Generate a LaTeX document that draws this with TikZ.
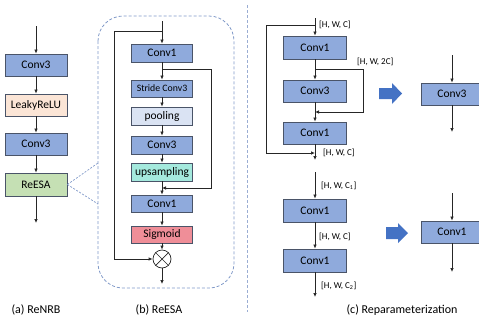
\documentclass[tikz,border=0pt]{standalone}
\usepackage{fontspec}
\setmainfont{Carlito}
\usetikzlibrary{arrows.meta}
\definecolor{convblue}{HTML}{8FAADC}
\definecolor{bordergray}{HTML}{4A5468}
\definecolor{peach}{HTML}{FBE5D6}
\definecolor{greenbox}{HTML}{C5E0B4}
\definecolor{poolblue}{HTML}{DAE3F3}
\definecolor{upcyan}{HTML}{A4E9DD}
\definecolor{sigred}{HTML}{EF8E98}
\definecolor{dashblue}{HTML}{8099C8}
\definecolor{arrowblue}{HTML}{4472C4}
\begin{document}
\begin{tikzpicture}[x=1pt,y=-1pt,
  box/.style={draw=bordergray,line width=0.8pt,minimum width=61pt,minimum height=18pt,inner sep=0pt,font=\fontsize{11.5}{13}\selectfont},
  conv/.style={box,fill=convblue},
  flow/.style={line width=0.7pt,draw=black!85,-{Latex[length=4pt,width=3.5pt]}},
  line/.style={line width=0.7pt,draw=black!85},
  lbl/.style={anchor=west,inner sep=0pt,font=\fontsize{9}{10}\selectfont},
  captxt/.style={font=\fontsize{12}{14}\selectfont},
  barrow/.style={fill=arrowblue,draw=none}]
\useasboundingbox (0,0) rectangle (479,322);

% ---------------- (a) ReNRB
\coordinate (ain) at (36,26);
\node[conv,minimum width=62pt,minimum height=22pt] (a1) at (36,65) {Conv3};
\node[box,fill=peach,minimum width=62pt,minimum height=22pt] (a2) at (36,105) {LeakyReLU};
\node[conv,minimum width=62pt,minimum height=22pt] (a3) at (36,144) {Conv3};
\node[box,fill=greenbox,minimum width=62pt,minimum height=23pt] (a4) at (36,184.5) {ReESA};
\coordinate (aout) at (36,223);
\draw[flow] (ain) -- (a1);
\draw[flow] (a1) -- (a2);
\draw[flow] (a2) -- (a3);
\draw[flow] (a3) -- (a4);
\draw[flow] (a4) -- (aout);

% ---------------- (b) ReESA
\draw[dashblue,line width=0.8pt,dash pattern=on 3pt off 2pt,rounded corners=25pt] (98,16) rectangle (234,288);
\coordinate (zu) at (98,163);
\coordinate (zd) at (98,204);
\draw[dashblue,line width=0.7pt,dash pattern=on 2pt off 1.5pt] (a4.east) -- (zu);
\draw[dashblue,line width=0.7pt,dash pattern=on 2pt off 1.5pt] (a4.east) -- (zd);

\coordinate (bin) at (162,21);
\node[conv] (b1) at (162,53) {Conv1};
\node[conv,minimum height=17pt,font=\fontsize{9.8}{11}\selectfont] (b2) at (162,88.5) {Stride Conv3};
\node[box,fill=poolblue] (b3) at (162,116) {pooling};
\node[conv] (b4) at (162,145) {Conv3};
\node[box,fill=upcyan] (b5) at (162,172) {upsampling};
\node[conv,minimum height=17pt] (b6) at (162,203.5) {Conv1};
\node[box,fill=sigred,minimum height=17pt] (b7) at (162,234.5) {Sigmoid};
\node[draw=black!85,line width=0.7pt,circle,minimum size=18pt,inner sep=0pt] (mul) at (162,259) {};
\draw[line] (mul.north west) -- (mul.south east);
\draw[line] (mul.north east) -- (mul.south west);
\coordinate (bout) at (162,284);

\draw[flow] (bin) -- (b1);
\draw[flow] (b1) -- (b2);
\draw[flow] (b2) -- (b3);
\draw[flow] (b3) -- (b4);
\draw[flow] (b4) -- (b5);
\draw[flow] (b5) -- (b6);
\draw[flow] (b6) -- (b7);
\draw[flow] (b7) -- (mul);
\draw[flow] (mul) -- (bout);
% skip connections
\coordinate (s1) at (162,31);
\draw[flow] (s1) -- (114,31) -- (114,259) -- (mul.west);
\coordinate (s2) at (162,69);
\coordinate (s2e) at (162,188);
\draw[flow] (s2) -- (211,69) -- (211,188) -- (s2e);

% separator
\draw[dashblue!80,line width=0.9pt,dash pattern=on 3pt off 2pt] (247,5) -- (247,312);

% ---------------- (c) top
\coordinate (cin) at (315,18);
\node[conv,minimum width=63pt,minimum height=23pt] (c1) at (315,47.5) {Conv1};
\node[conv,minimum width=63pt,minimum height=22pt] (c2) at (315,91) {Conv3};
\node[conv,minimum width=63pt,minimum height=22pt] (c3) at (315,133) {Conv1};
\coordinate (cout) at (315,160);
\draw[flow] (cin) -- (c1);
\draw[flow] (c1) -- (c2);
\draw[flow] (c2) -- (c3);
\draw[flow] (c3) -- (cout);
\coordinate (t1) at (315,25);
\coordinate (t1e) at (315,153);
\draw[flow] (t1) -- (266,25) -- (266,153) -- (t1e);
\coordinate (t2) at (315,69);
\coordinate (t2e) at (315,112);
\draw[flow] (t2) -- (363,69) -- (363,112) -- (t2e);
\node[lbl] (l1) at (319,25) {[H, W, C]};
\node[lbl] (l2) at (357,62) {[H, W, 2C]};
\node[lbl] (l3) at (323,153) {[H, W, C]};

\fill[barrow] (379,88) -- (392,88) -- (392,83) -- (402,93.5) -- (392,104) -- (392,99) -- (379,99) -- cycle;

\coordinate (rin) at (452,55);
\node[conv,minimum width=62pt,minimum height=22pt] (r1) at (452,94) {Conv3};
\coordinate (rout) at (452,132);
\draw[flow] (rin) -- (r1);
\draw[flow] (r1) -- (rout);

% ---------------- (c) bottom
\coordinate (din) at (315,172);
\node[conv,minimum width=63pt,minimum height=23pt] (d1) at (315,210.5) {Conv1};
\node[conv,minimum width=63pt,minimum height=23pt] (d2) at (315,260.5) {Conv1};
\coordinate (dout) at (315,297);
\draw[flow] (din) -- (d1);
\draw[flow] (d1) -- (d2);
\draw[flow] (d2) -- (dout);
\node[lbl] (m1) at (321,186) {[H, W, C\textsubscript{1}]};
\node[lbl] (m2) at (319,237) {[H, W, C]};
\node[lbl] (m3) at (321,286) {[H, W, C\textsubscript{2}]};

\fill[barrow] (386,227) -- (398,227) -- (398,223) -- (408,233) -- (398,243) -- (398,239) -- (386,239) -- cycle;

\coordinate (qin) at (452,193);
\node[conv,minimum width=62pt,minimum height=22pt] (q1) at (452,232) {Conv1};
\coordinate (qout) at (452,272);
\draw[flow] (qin) -- (q1);
\draw[flow] (q1) -- (qout);

% captions
\node[captxt] (ca) at (36,310) {(a) ReNRB};
\node[captxt] (cb) at (159,310) {(b) ReESA};
\node[captxt] (cc) at (402,310) {(c) Reparameterization};
\end{tikzpicture}
\end{document}
